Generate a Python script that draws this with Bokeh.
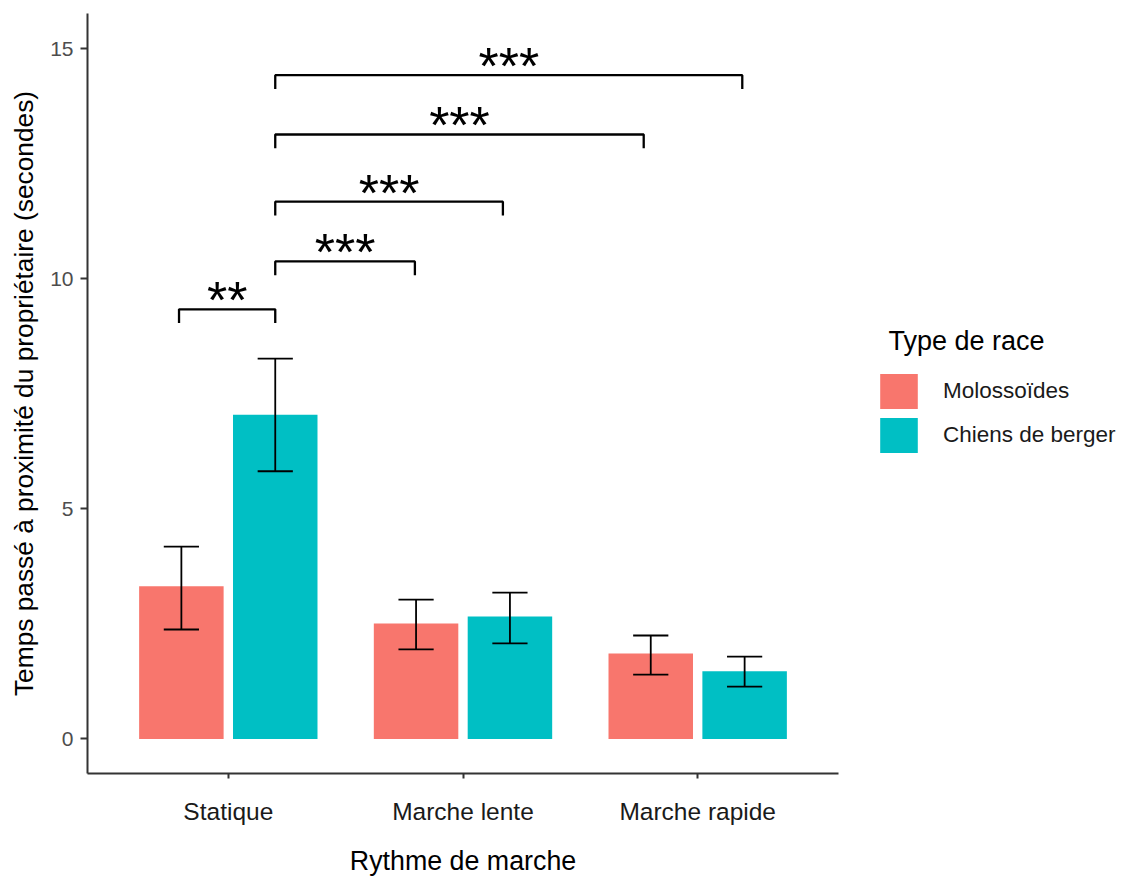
from bokeh.plotting import figure
from bokeh.models import ColumnDataSource, Range1d, FixedTicker, Legend, LegendItem
from bokeh.core.properties import value
from bokeh.embed import file_html
from bokeh.resources import INLINE

# ---------------- data ----------------
rythmes = ["Statique", "Marche lente", "Marche rapide"]
races = ["Molossoïdes", "Chiens de berger"]

molosso_moy = [3.32, 2.51, 1.86]
molosso_bas = [2.38, 1.95, 1.40]
molosso_haut = [4.18, 3.03, 2.25]

berger_moy = [7.05, 2.66, 1.47]
berger_bas = [5.82, 2.08, 1.14]
berger_haut = [8.27, 3.18, 1.79]

sig_debut = [0.79, 1.2, 1.2, 1.2, 1.2]
sig_fin = [1.2, 1.795, 2.17, 2.77, 3.19]
sig_y = [9.34, 10.38, 11.68, 13.14, 14.43]
sig_labels = ["**", "***", "***", "***", "***"]

y_ticks = [0, 5, 10, 15]

# ---------------- styling ----------------
COL_MOL = "#F8766D"
COL_BER = "#00BFC4"
FONT = "Liberation Sans"
DODGE = 0.2
BAR_W = 0.36
CAP_HALF = 0.075
TIP = 0.3

p = figure(
    frame_width=751, frame_height=760,
    min_border_left=87, min_border_top=13, min_border_right=284, min_border_bottom=106,
    x_range=Range1d(0.4, 3.6), y_range=Range1d(-0.75, 15.77),
    output_backend="svg", toolbar_location=None,
)
p.outline_line_color = None
p.xgrid.visible = False
p.ygrid.visible = False
p.background_fill_color = "white"
p.border_fill_color = "white"

pos = [i + 1 for i in range(len(rythmes))]


def make_source(means, lows, highs, off):
    x = [c + off for c in pos]
    return ColumnDataSource(dict(
        x=x, top=means, low=lows, high=highs,
        cl=[v - CAP_HALF for v in x], cr=[v + CAP_HALF for v in x],
    ))


src_mol = make_source(molosso_moy, molosso_bas, molosso_haut, -DODGE)
src_ber = make_source(berger_moy, berger_bas, berger_haut, DODGE)

r_mol = p.vbar(x="x", top="top", bottom=0, width=BAR_W, source=src_mol,
               fill_color=COL_MOL, line_color=None)
r_ber = p.vbar(x="x", top="top", bottom=0, width=BAR_W, source=src_ber,
               fill_color=COL_BER, line_color=None)

for s in (src_mol, src_ber):
    p.segment(x0="x", y0="low", x1="x", y1="high", source=s, line_color="black", line_width=1.8)
    p.segment(x0="cl", y0="high", x1="cr", y1="high", source=s, line_color="black", line_width=1.8)
    p.segment(x0="cl", y0="low", x1="cr", y1="low", source=s, line_color="black", line_width=1.8)

# significance brackets
xs, ys, tx = [], [], []
for a, b, y in zip(sig_debut, sig_fin, sig_y):
    xs.append([a, a, b, b])
    ys.append([y - TIP, y, y, y - TIP])
    tx.append((a + b) / 2)
p.multi_line(xs=xs, ys=ys, line_color="black", line_width=2.3)
p.text(x=tx, y=sig_y, text=sig_labels, text_align="center", text_baseline="alphabetic",
       text_font=value(FONT), text_font_size="52px", text_color="black", y_offset=-9)

# axes
p.xaxis.ticker = FixedTicker(ticks=pos)
p.xaxis.major_label_overrides = {c: r for c, r in zip(pos, rythmes)}
p.yaxis.ticker = FixedTicker(ticks=y_ticks)
for ax in (p.xaxis[0], p.yaxis[0]):
    ax.axis_line_color = "#333333"
    ax.axis_line_width = 2
    ax.major_tick_line_color = "#333333"
    ax.major_tick_line_width = 2
    ax.major_tick_in = 0
    ax.minor_tick_line_color = None
    ax.major_label_text_font = FONT
    ax.axis_label_text_font = FONT
    ax.axis_label_text_font_style = "normal"
    ax.axis_label_text_color = "black"

p.xaxis.major_tick_out = 5
p.xaxis.major_label_text_font_size = "24.5px"
p.xaxis.major_label_text_color = "#1a1a1a"
p.xaxis.major_label_standoff = 19
p.xaxis.axis_label = "Rythme de marche"
p.xaxis.axis_label_text_font_size = "26.8px"
p.xaxis.axis_label_standoff = 18

p.yaxis.major_tick_out = 7
p.yaxis.major_label_text_font_size = "21px"
p.yaxis.major_label_text_color = "#4D4D4D"
p.yaxis.major_label_standoff = 7
p.yaxis.axis_label = "Temps passé à proximité du propriétaire (secondes)"
p.yaxis.axis_label_text_font_size = "26.3px"
p.yaxis.axis_label_standoff = 8

legend = Legend(
    items=[LegendItem(label=races[0], renderers=[r_mol]),
           LegendItem(label=races[1], renderers=[r_ber])],
    location=(37, 316),
    title="\u2002Type de race",
    title_text_font=FONT, title_text_font_size="27px", title_text_font_style="normal",
    title_text_color="black", title_standoff=12,
    label_text_font=FONT, label_text_font_size="22.5px", label_text_color="#1a1a1a",
    glyph_width=47, glyph_height=44, label_standoff=21, spacing=0,
    padding=0, margin=0, border_line_color=None, background_fill_alpha=0,
)
p.add_layout(legend, "right")

open("out.html", "w").write(file_html(p, INLINE))
